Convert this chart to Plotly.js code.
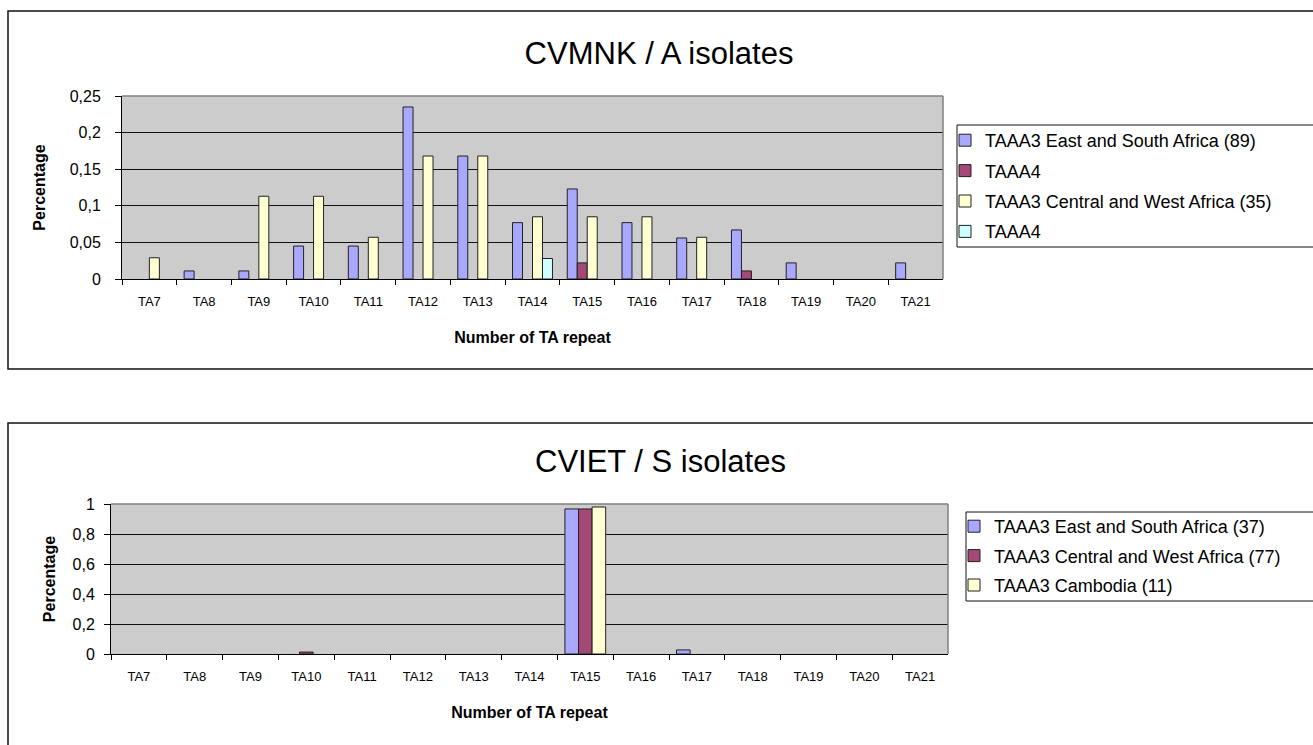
<!DOCTYPE html>
<html>
<head>
<meta charset="utf-8">
<script src="https://cdn.plot.ly/plotly-3.0.1.min.js"></script>
<style>
  html, body { margin: 0; padding: 0; background: #ffffff; }
  #chart { width: 1313px; height: 745px; }
</style>
</head>
<body>
<div id="chart"></div>
<script>
// ---------- data ----------
const categories = ["TA7","TA8","TA9","TA10","TA11","TA12","TA13","TA14","TA15","TA16","TA17","TA18","TA19","TA20","TA21"];

// Chart 1: CVMNK / A isolates
const cvmnkNames = ["TAAA3 East and South Africa (89)", "TAAA4", "TAAA3 Central and West Africa (35)", "TAAA4"];
const cvmnkEastSouth   = [0, 0.011, 0.011, 0.045, 0.045, 0.235, 0.168, 0.077, 0.123, 0.077, 0.056, 0.067, 0.022, 0, 0.022];
const cvmnkTaaa4A      = [0, 0, 0, 0, 0, 0, 0, 0, 0.022, 0, 0, 0.011, 0, 0, 0];
const cvmnkCentralWest = [0.029, 0, 0.113, 0.113, 0.057, 0.168, 0.168, 0.085, 0.085, 0.085, 0.057, 0, 0, 0, 0];
const cvmnkTaaa4B      = [0, 0, 0, 0, 0, 0, 0, 0.028, 0, 0, 0, 0, 0, 0, 0];

// Chart 2: CVIET / S isolates
const cvietNames = ["TAAA3 East and South Africa (37)", "TAAA3 Central and West Africa (77)", "TAAA3 Cambodia (11)"];
const cvietEastSouth   = [0, 0, 0, 0, 0, 0, 0, 0, 0.967, 0, 0.027, 0, 0, 0, 0];
const cvietCentralWest = [0, 0, 0, 0.013, 0, 0, 0, 0, 0.967, 0, 0, 0, 0, 0, 0];
const cvietCambodia    = [0, 0, 0, 0, 0, 0, 0, 0, 0.98, 0, 0, 0, 0, 0, 0];

// ---------- styles ----------
const FONT = "Arial, 'Liberation Sans', sans-serif";
const C_BLUE = "#A8A8FF", C_MAROON = "#A34877", C_YELLOW = "#FFFFD2", C_CYAN = "#D0FFFF";
const W = 1313, H = 745;
const px = v => v / W;
const py = v => 1 - v / H;

function barTrace(x, y, name, color, xa, ya, legend, group) {
  return {
    type: "bar", x: x,
    // zero values are left empty so no outline stub is drawn
    y: y.map(v => (v === 0 ? null : v)),
    name: name, xaxis: xa, yaxis: ya,
    legend: legend, legendgroup: group,
    marker: { color: color, line: { color: "#222222", width: 1 } },
    hoverinfo: "x+y+name"
  };
}

const traces = [
  barTrace(categories, cvmnkEastSouth,   cvmnkNames[0], C_BLUE,   "x",  "y",  "legend",  "a1"),
  barTrace(categories, cvmnkTaaa4A,      cvmnkNames[1], C_MAROON, "x",  "y",  "legend",  "a2"),
  barTrace(categories, cvmnkCentralWest, cvmnkNames[2], C_YELLOW, "x",  "y",  "legend",  "a3"),
  barTrace(categories, cvmnkTaaa4B,      cvmnkNames[3], C_CYAN,   "x",  "y",  "legend",  "a4"),
  barTrace(categories, cvietEastSouth,   cvietNames[0], C_BLUE,   "x2", "y2", "legend2", "b1"),
  barTrace(categories, cvietCentralWest, cvietNames[1], C_MAROON, "x2", "y2", "legend2", "b2"),
  barTrace(categories, cvietCambodia,    cvietNames[2], C_YELLOW, "x2", "y2", "legend2", "b3")
];

// plot area geometry (px)
const P1 = { l: 122, r: 943, t: 96, b: 279 };
const P2 = { l: 111, r: 948, t: 504, b: 654 };

function xAxis(P, anchor, standoff) {
  return {
    type: "category", domain: [px(P.l), px(P.r)], anchor: anchor,
    showline: true, linecolor: "#000000", linewidth: 1,
    ticks: "outside", tickson: "boundaries", ticklen: 5, tickcolor: "#000000",
    showgrid: false, zeroline: false, automargin: false,
    ticklabelstandoff: 10,
    tickfont: { family: FONT, size: 13, color: "#000000" },
    title: { text: "<b>Number of TA repeat</b>", font: { family: FONT, size: 16, color: "#000000" }, standoff: standoff }
  };
}
function yAxis(P, anchor, range, dtick, standoffLbl, titleStandoff) {
  return {
    domain: [py(P.b), py(P.t)], anchor: anchor, range: range, dtick: dtick, tick0: 0,
    showline: true, linecolor: "#000000", linewidth: 1,
    ticks: "outside", ticklen: 6, tickcolor: "#000000",
    showgrid: true, gridcolor: "#111111", gridwidth: 1, zeroline: false, automargin: false,
    ticklabelstandoff: standoffLbl,
    tickfont: { family: FONT, size: 16, color: "#000000" },
    title: { text: "<b>Percentage</b>", font: { family: FONT, size: 16, color: "#000000" }, standoff: titleStandoff }
  };
}

const shapes = [
  // outer chart boxes
  { type: "rect", xref: "paper", yref: "paper", x0: px(8), x1: px(1330), y0: py(369), y1: py(11),
    line: { color: "#111111", width: 1.5 }, fillcolor: "rgba(0,0,0,0)", layer: "below" },
  { type: "rect", xref: "paper", yref: "paper", x0: px(8), x1: px(1330), y0: py(760), y1: py(423),
    line: { color: "#111111", width: 1.5 }, fillcolor: "rgba(0,0,0,0)", layer: "below" },
  // grey top / right plot-area borders
  { type: "line", xref: "paper", yref: "paper", x0: px(P1.l), x1: px(P1.r), y0: py(P1.t), y1: py(P1.t), line: { color: "#808080", width: 1.5 } },
  { type: "line", xref: "paper", yref: "paper", x0: px(P1.r), x1: px(P1.r), y0: py(P1.t), y1: py(P1.b), line: { color: "#808080", width: 1.5 } },
  { type: "line", xref: "paper", yref: "paper", x0: px(P2.l), x1: px(P2.r), y0: py(P2.t), y1: py(P2.t), line: { color: "#808080", width: 1.5 } },
  { type: "line", xref: "paper", yref: "paper", x0: px(P2.r), x1: px(P2.r), y0: py(P2.t), y1: py(P2.b), line: { color: "#808080", width: 1.5 } },
  // legend boxes
  { type: "rect", xref: "paper", yref: "paper", x0: px(957), x1: px(1330), y0: py(247), y1: py(125),
    line: { color: "#111111", width: 1 }, fillcolor: "#ffffff" },
  { type: "rect", xref: "paper", yref: "paper", x0: px(966), x1: px(1330), y0: py(601), y1: py(512),
    line: { color: "#111111", width: 1 }, fillcolor: "#ffffff" }
];

const layout = {
  width: W, height: H,
  margin: { l: 0, r: 0, t: 0, b: 0, pad: 0 },
  paper_bgcolor: "#ffffff",
  plot_bgcolor: "#CCCCCC",
  separators: ", ",
  font: { family: FONT, color: "#000000" },
  barmode: "group", bargap: 0.27, bargroupgap: 0,
  title: { text: "CVMNK / A isolates", x: px(659), xref: "paper", y: py(53), yref: "paper",
           xanchor: "center", yanchor: "middle", font: { family: FONT, size: 31, color: "#000000" } },
  xaxis: xAxis(P1, "y", 24),
  yaxis: yAxis(P1, "x", [0, 0.25], 0.05, 11, 20),
  xaxis2: xAxis(P2, "y2", 24),
  yaxis2: yAxis(P2, "x2", [0, 1], 0.2, 6, 12),
  legend: { x: px(945), y: py(122), xanchor: "left", yanchor: "top", bgcolor: "rgba(0,0,0,0)", borderwidth: 0,
            font: { family: FONT, size: 18, color: "#000000" }, tracegroupgap: 4, traceorder: "grouped" },
  legend2: { x: px(954), y: py(508), xanchor: "left", yanchor: "top", bgcolor: "rgba(0,0,0,0)", borderwidth: 0,
            font: { family: FONT, size: 18, color: "#000000" }, tracegroupgap: 3, traceorder: "grouped" },
  showlegend: true,
  shapes: shapes,
  annotations: [
    { text: "CVIET / S isolates", xref: "paper", yref: "paper", x: px(660), y: py(462), xanchor: "center", yanchor: "middle",
      showarrow: false, font: { family: FONT, size: 31, color: "#000000" } }
  ]
};

Plotly.newPlot("chart", traces, layout, { displayModeBar: false, staticPlot: true });
</script>
</body>
</html>
